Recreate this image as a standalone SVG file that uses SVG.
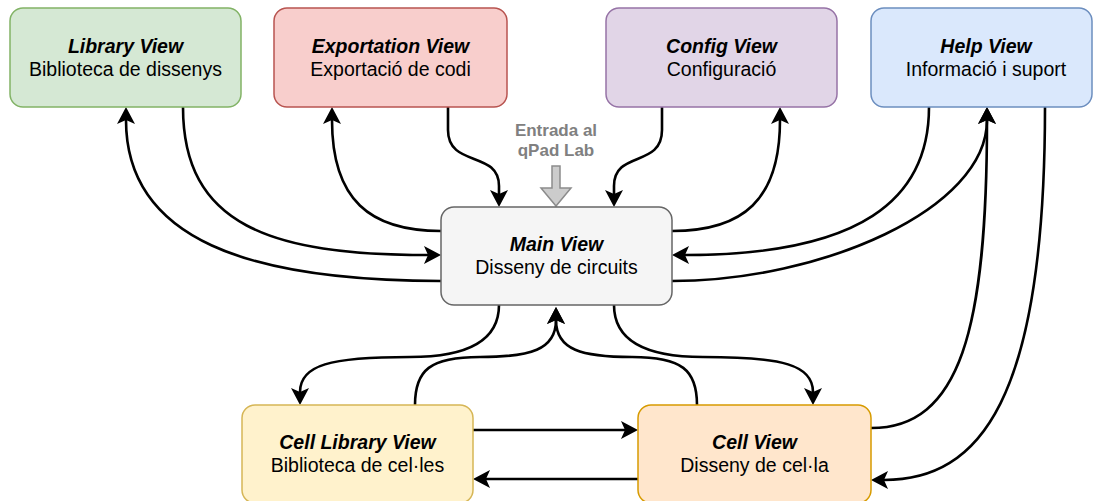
<svg xmlns="http://www.w3.org/2000/svg" width="1094" height="501" viewBox="0 0 1094 501">
  <style>
    .box { stroke-width: 1.5; }
    .t { font-family: "Liberation Sans", Arial, sans-serif; font-size: 19.5px; fill: #000; text-anchor: middle; }
    .title { font-weight: bold; font-style: italic; }
    .edge { fill: none; stroke: #000; stroke-width: 2.6; }
    .entry { font-family: "Liberation Sans", Arial, sans-serif; font-size: 17px; font-weight: bold; fill: #808080; text-anchor: middle; }
  </style>
  <defs>
    <marker id="arrow" markerUnits="userSpaceOnUse" markerWidth="20" markerHeight="20" viewBox="0 -10 20 20" refX="4" refY="0" orient="auto">
      <path d="M17,0 L0,-9 L4,0 L0,9 Z" fill="#000"/>
    </marker>
  </defs>
  <rect width="1094" height="501" fill="#fff"/>

  <!-- connectors -->
  <g id="connectors">
    <!-- Library <-> Main -->
    <path class="edge" d="M183,107 C183,225 270,255 428,255" marker-end="url(#arrow)"/>
    <path class="edge" d="M441,281 C250,281 126,240 126,120" marker-end="url(#arrow)"/>
    <!-- Exportation <-> Main -->
    <path class="edge" d="M441,231 C370,231 332,200 332,120" marker-end="url(#arrow)"/>
    <path class="edge" d="M448,107 L448,130 C448,168 499,150 499,186 L499,194" marker-end="url(#arrow)"/>
    <!-- Config <-> Main -->
    <path class="edge" d="M662,107 L662,130 C662,168 614,150 614,186 L614,194" marker-end="url(#arrow)"/>
    <path class="edge" d="M672,231 C743,231 780,200 780,120" marker-end="url(#arrow)"/>
    <!-- Help <-> Main -->
    <path class="edge" d="M929,107 C929,200 860,255 685,255" marker-end="url(#arrow)"/>
    <path class="edge" d="M672,281 C820,281 987,210 987,120" marker-end="url(#arrow)"/>
    <!-- Help <-> Cell View -->
    <path class="edge" d="M871,428 C960,428 987,330 987,120" marker-end="url(#arrow)"/>
    <path class="edge" d="M1045,107 C1045,400 980,480 884,480" marker-end="url(#arrow)"/>
    <!-- Main <-> Cell Library -->
    <path class="edge" d="M499,305 C499,345 460,357 410,357 C330,357 300,365 300,392" marker-end="url(#arrow)"/>
    <path class="edge" d="M415,405 C415,370 430,357 480,357 C530,357 556,350 556,320" marker-end="url(#arrow)"/>
    <!-- Main <-> Cell View -->
    <path class="edge" d="M697,405 C697,370 682,357 632,357 C582,357 556,350 556,320" marker-end="url(#arrow)"/>
    <path class="edge" d="M614,305 C614,345 653,357 703,357 C783,357 813,365 813,392" marker-end="url(#arrow)"/>
    <!-- Cell Library <-> Cell View -->
    <path class="edge" d="M473,430 L625,430" marker-end="url(#arrow)"/>
    <path class="edge" d="M638,479 L486,479" marker-end="url(#arrow)"/>
  </g>

  <!-- entry point into the main view -->
  <g id="entry">
    <text class="entry" x="556" y="136">Entrada al</text>
    <text class="entry" x="556" y="156">qPad Lab</text>
    <polygon points="552,166 560,166 560,188 571,188 556,206 541,188 552,188" fill="#cccccc" stroke="#8c8c8c" stroke-width="1.5"/>
  </g>

  <g id="library-view">
    <rect class="box" x="10" y="8" width="231" height="99" rx="13" fill="#d5e8d4" stroke="#82b366"/>
    <text class="t title" x="125.5" y="52.5">Library View</text>
    <text class="t" x="125.5" y="75.5">Biblioteca de dissenys</text>
  </g>

  <g id="exportation-view">
    <rect class="box" x="274" y="8" width="233" height="99" rx="13" fill="#f8cecc" stroke="#b85450"/>
    <text class="t title" x="390.5" y="52.5">Exportation View</text>
    <text class="t" x="390.5" y="75.5">Exportació de codi</text>
  </g>

  <g id="config-view">
    <rect class="box" x="606" y="8" width="231" height="99" rx="13" fill="#e1d5e7" stroke="#9673a6"/>
    <text class="t title" x="721.5" y="52.5">Config View</text>
    <text class="t" x="721.5" y="75.5">Configuració</text>
  </g>

  <g id="help-view">
    <rect class="box" x="871" y="8" width="221" height="99" rx="13" fill="#dae8fc" stroke="#6c8ebf"/>
    <text class="t title" x="986" y="52.5">Help View</text>
    <text class="t" x="986" y="75.5">Informació i suport</text>
  </g>

  <g id="main-view">
    <rect class="box" x="441" y="207" width="231" height="98" rx="13" fill="#f5f5f5" stroke="#666666"/>
    <text class="t title" x="556.5" y="250.5">Main View</text>
    <text class="t" x="556.5" y="273.5">Disseny de circuits</text>
  </g>

  <g id="cell-library-view">
    <rect class="box" x="242" y="405" width="231" height="98" rx="13" fill="#fff2cc" stroke="#d6b656"/>
    <text class="t title" x="357.5" y="448.5">Cell Library View</text>
    <text class="t" x="357.5" y="471.5">Biblioteca de cel·les</text>
  </g>

  <g id="cell-view">
    <rect class="box" x="638" y="405" width="233" height="98" rx="13" fill="#ffe6cc" stroke="#d79b00"/>
    <text class="t title" x="754.5" y="448.5">Cell View</text>
    <text class="t" x="754.5" y="471.5">Disseny de cel·la</text>
  </g>
</svg>
